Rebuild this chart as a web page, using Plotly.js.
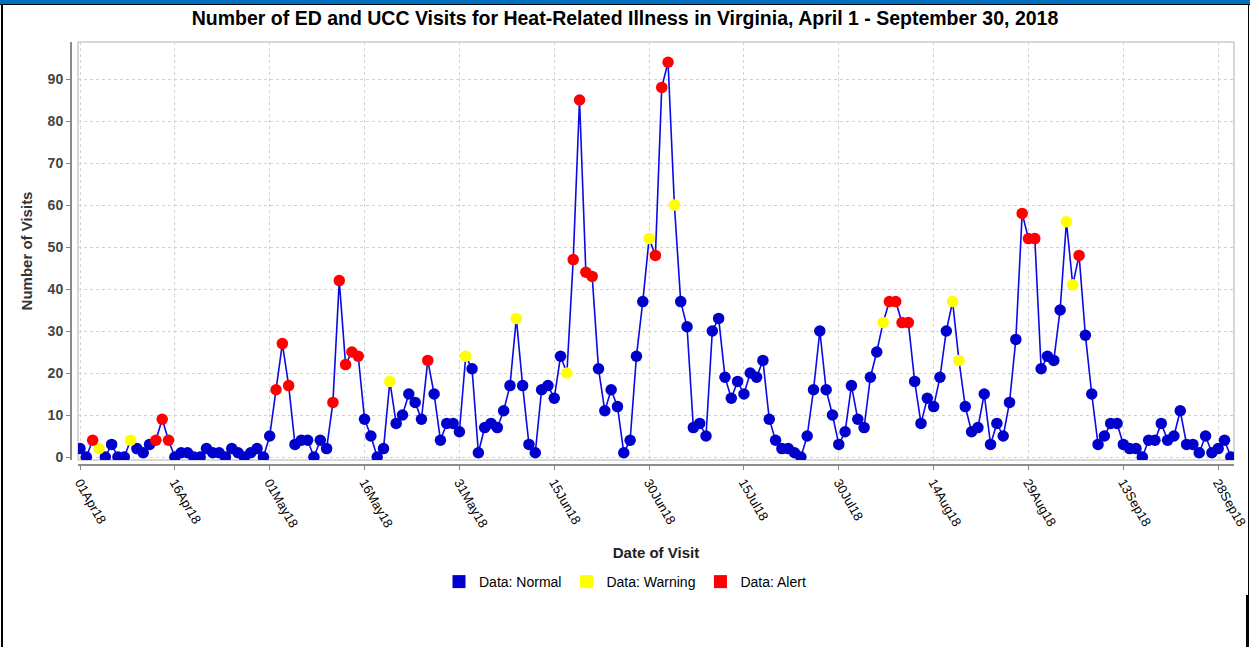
<!DOCTYPE html>
<html>
<head>
<meta charset="utf-8">
<script src="https://cdn.plot.ly/plotly-3.0.1.min.js"></script>
<style>
  html, body { margin: 0; padding: 0; background: #ffffff; }
  #wrap { position: relative; width: 1250px; height: 647px; overflow: hidden; }
  #chart { position: absolute; left: 0; top: 0; width: 1250px; height: 647px; }
  .frame { position: absolute; background: #000; pointer-events: none; z-index: 5; }
</style>
</head>
<body>
<div id="wrap">
  <div id="chart"></div>
  <div class="frame" style="left:0;top:0;width:1250px;height:4px;background:#0070c0;"></div>
  <div class="frame" style="left:0;top:4px;width:1250px;height:1px;"></div>
  <div class="frame" style="left:1px;top:4px;width:2px;height:643px;"></div>
  <div class="frame" style="left:1248px;top:4px;width:1px;height:591px;"></div>
  <div class="frame" style="left:1246px;top:595px;width:3px;height:52px;"></div>
</div>
<script>
// ---- Data ----
const startDate = '2018-04-01';
const visits = [
  2, 0, 4, 2, 0, 3, 0, 0, 4, 2,
  1, 3, 4, 9, 4, 0, 1, 1, 0, 0,
  2, 1, 1, 0, 2, 1, 0, 1, 2, 0,
  5, 16, 27, 17, 3, 4, 4, 0, 4, 2,
  13, 42, 22, 25, 24, 9, 5, 0, 2, 18,
  8, 10, 15, 13, 9, 23, 15, 4, 8, 8,
  6, 24, 21, 1, 7, 8, 7, 11, 17, 33,
  17, 3, 1, 16, 17, 14, 24, 20, 47, 85,
  44, 43, 21, 11, 16, 12, 1, 4, 24, 37,
  52, 48, 88, 94, 60, 37, 31, 7, 8, 5,
  30, 33, 19, 14, 18, 15, 20, 19, 23, 9,
  4, 2, 2, 1, 0, 5, 16, 30, 16, 10,
  3, 6, 17, 9, 7, 19, 25, 32, 37, 37,
  32, 32, 18, 8, 14, 12, 19, 30, 37, 23,
  12, 6, 7, 15, 3, 8, 5, 13, 28, 58,
  52, 52, 21, 24, 23, 35, 56, 41, 48, 29,
  15, 3, 5, 8, 8, 3, 2, 2, 0, 4,
  4, 8, 4, 5, 11, 3, 3, 1, 5, 1,
  2, 4, 0
];
// N = Normal, W = Warning, A = Alert
const status = [
  'N','N','A','W','N','N','N','N','W','N',
  'N','N','A','A','A','N','N','N','N','N',
  'N','N','N','N','N','N','N','N','N','N',
  'N','A','A','A','N','N','N','N','N','N',
  'A','A','A','A','A','N','N','N','N','W',
  'N','N','N','N','N','A','N','N','N','N',
  'N','W','N','N','N','N','N','N','N','W',
  'N','N','N','N','N','N','N','W','A','A',
  'A','A','N','N','N','N','N','N','N','N',
  'W','A','A','A','W','N','N','N','N','N',
  'N','N','N','N','N','N','N','N','N','N',
  'N','N','N','N','N','N','N','N','N','N',
  'N','N','N','N','N','N','N','W','A','A',
  'A','A','N','N','N','N','N','N','W','W',
  'N','N','N','N','N','N','N','N','N','A',
  'A','A','N','N','N','N','W','W','A','N',
  'N','N','N','N','N','N','N','N','N','N',
  'N','N','N','N','N','N','N','N','N','N',
  'N','N','N'
];
const tickDates = ['2018-04-01','2018-04-16','2018-05-01','2018-05-16','2018-05-31','2018-06-15',
  '2018-06-30','2018-07-15','2018-07-30','2018-08-14','2018-08-29','2018-09-13','2018-09-28'];
const tickLabels = ['01Apr18','16Apr18','01May18','16May18','31May18','15Jun18',
  '30Jun18','15Jul18','30Jul18','14Aug18','29Aug18','13Sep18','28Sep18'];
const categories = [
  {code: 'N', name: 'Data: Normal',  color: '#0000cc'},
  {code: 'W', name: 'Data: Warning', color: '#ffff00'},
  {code: 'A', name: 'Data: Alert',   color: '#ff0000'}
];

// dates for each day (category axis)
const dates = visits.map(function (_, i) {
  const d = new Date(startDate + 'T00:00:00Z');
  d.setUTCDate(d.getUTCDate() + i);
  return d.toISOString().slice(0, 10);
});

const traces = [];
traces.push({
  x: dates, y: visits, type: 'scatter', mode: 'lines',
  line: {color: '#0a0ae6', width: 1.6}, showlegend: false, hoverinfo: 'skip'
});
categories.forEach(function (c) {
  const xs = [], ys = [];
  dates.forEach(function (d, i) { if (status[i] === c.code) { xs.push(d); ys.push(visits[i]); } });
  traces.push({
    x: xs, y: ys, type: 'scatter', mode: 'markers', name: c.name,
    marker: {color: c.color, size: 11.5, symbol: 'circle', line: {width: 0}},
    showlegend: false
  });
});
categories.forEach(function (c) {
  traces.push({
    x: [null], y: [null], type: 'scatter', mode: 'markers', name: c.name,
    marker: {color: c.color, size: 13, symbol: 'square'}, showlegend: true
  });
});

const font = 'Liberation Sans, Arial, sans-serif';
const layout = {
  width: 1250, height: 647,
  margin: {l: 71, r: 16, t: 42, b: 182},
  paper_bgcolor: '#ffffff', plot_bgcolor: '#ffffff',
  font: {family: font, color: '#000'},
  title: {
    text: '<b>Number of ED and UCC Visits for Heat-Related Illness in Virginia, April 1 - September 30, 2018</b>',
    font: {family: font, size: 19.5, color: '#000'},
    x: 0.5, xref: 'container', xanchor: 'center',
    y: 1 - 18 / 647, yref: 'container', yanchor: 'middle'
  },
  xaxis: {
    type: 'date',
    domain: [7 / 1163, 1],
    range: ['2018-03-31 16:24', '2018-09-30 12:00'],
    anchor: 'free', position: 0,
    tickmode: 'array', tickvals: tickDates, ticktext: tickLabels,
    tickangle: 60,
    tickfont: {family: font, size: 13, color: '#000'},
    ticks: 'outside', ticklen: 4, tickcolor: '#888',
    showline: true, linecolor: '#8c8c8c', linewidth: 2,
    showgrid: true, gridcolor: '#d2d2d2', griddash: 'dot', gridwidth: 1,
    zeroline: false,
    title: {text: '<b>Date of Visit</b>', font: {family: font, size: 15, color: '#222'}, standoff: 17}
  },
  yaxis: {
    domain: [5 / 423, 1],
    range: [-0.714, 98.81],
    anchor: 'free', position: 0,
    dtick: 10, tick0: 0,
    tickfont: {family: font, size: 14, color: '#444', weight: 'bold'},
    ticks: 'outside', ticklen: 4, tickcolor: '#888',
    showline: true, linecolor: '#8c8c8c', linewidth: 2,
    showgrid: true, gridcolor: '#d2d2d2', griddash: 'dot', gridwidth: 1,
    zeroline: false,
    title: {text: '<b>Number of Visits</b>', font: {family: font, size: 15, color: '#333'}, standoff: 10}
  },
  shapes: [{
    type: 'rect', xref: 'x domain', yref: 'y domain', x0: 0, x1: 1, y0: 0, y1: 1,
    line: {color: '#b0b0b0', width: 1}, fillcolor: 'rgba(0,0,0,0)', layer: 'below'
  }],
  legend: {
    orientation: 'h', xref: 'container', yref: 'container',
    x: 0.5, xanchor: 'center', y: 1 - 582 / 647, yanchor: 'middle',
    font: {family: font, size: 14, color: '#000'},
    bgcolor: 'rgba(0,0,0,0)', itemwidth: 30, tracegroupgap: 0
  },
  showlegend: true,
  hovermode: false
};

Plotly.newPlot('chart', traces, layout, {displayModeBar: false, staticPlot: true});
</script>
</body>
</html>
